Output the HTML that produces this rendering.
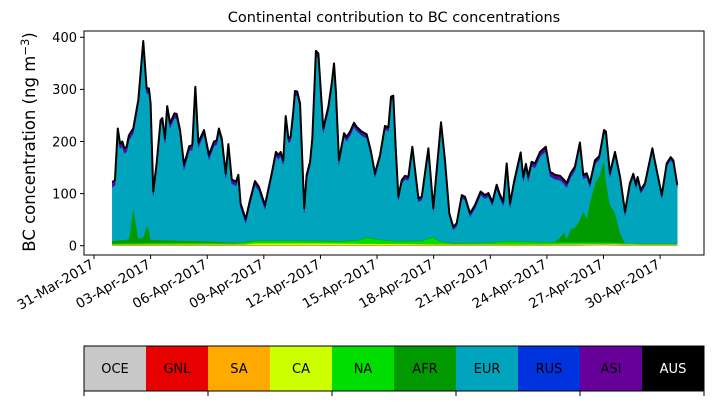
<!DOCTYPE html>
<html><head><meta charset="utf-8"><style>
html,body{margin:0;padding:0;background:#fff;}
svg{display:block;font-family:"DejaVu Sans","Liberation Sans",sans-serif;}
</style></head><body>
<svg id="chart" width="714" height="402" viewBox="0 0 714 402" xmlns="http://www.w3.org/2000/svg">
<text x="394" y="22" font-size="14.5" text-anchor="middle">Continental contribution to BC concentrations</text>
<text transform="translate(35,142) rotate(-90)" font-size="16.5" text-anchor="middle">BC concentration (ng m<tspan dy="-6" font-size="11.5">−3</tspan><tspan dy="6">)</tspan></text>
<g id="areas"></g>
<g id="axes"></g>
<g id="legend"></g>
</svg>
<script>
// days since 31-Mar-2017 00:00
const days=[0.97,1.11,1.26,1.38,1.50,1.61,1.73,1.85,2.08,2.35,2.61,2.79,2.91,3.00,3.14,3.32,3.53,3.62,3.76,3.88,4.03,4.26,4.38,4.56,4.77,5.05,5.21,5.37,5.53,5.83,6.09,6.36,6.50,6.62,6.77,6.98,7.12,7.30,7.53,7.65,7.77,8.04,8.27,8.53,8.74,9.06,9.42,9.64,9.77,9.89,10.03,10.16,10.30,10.42,10.56,10.65,10.77,10.92,11.14,11.27,11.45,11.57,11.76,11.89,12.15,12.42,12.60,12.72,12.82,12.98,13.25,13.39,13.57,13.78,13.92,14.19,14.45,14.66,14.89,15.16,15.42,15.60,15.74,15.86,16.00,16.13,16.31,16.48,16.66,16.87,17.19,17.37,17.72,17.98,18.39,18.60,18.83,19.04,19.22,19.49,19.66,19.93,20.19,20.49,20.72,20.90,21.11,21.34,21.48,21.69,21.87,22.05,22.26,22.61,22.75,22.89,23.01,23.19,23.37,23.64,23.94,24.17,24.43,24.70,24.92,25.05,25.26,25.49,25.75,25.93,26.11,26.28,26.55,26.78,27.03,27.13,27.34,27.61,27.88,28.14,28.40,28.58,28.72,28.81,28.97,29.20,29.59,29.73,30.09,30.35,30.56,30.70,30.91];
const totalBC=[122,126,225,196,200,187,190,212,225,280,393,302,302,273,104,158,241,245,206,268,235,254,253,222,155,191,193,305,198,222,174,200,202,225,206,138,195,127,123,136,81,51,88,124,113,78,139,180,174,180,164,249,206,209,257,297,296,273,72,136,161,206,374,369,225,267,312,350,296,164,216,209,219,236,228,219,214,184,139,174,230,227,286,288,180,94,126,134,132,190,91,94,187,72,237,164,62,36,43,97,94,62,78,104,97,101,84,117,101,84,158,81,123,179,132,157,132,161,158,180,190,142,136,134,126,120,139,152,198,136,139,120,164,172,222,219,139,180,132,65,120,138,117,132,107,120,187,161,97,158,170,164,117];
// component series: [day, value]
const OCE=[[0.97,0.5],[24,0.5],[27,2],[29,0.5],[31,0.5]];
const GNL=[[0.97,0.3],[31,0.3]];
const SA=[[0.97,0.5],[8,1],[16,0.8],[31,0.5]];
const CA=[[0.97,1],[8,1],[8.5,3],[12,3],[16,2],[19,1],[31,1]];
const NA=[[0.97,2],[3,3],[6,3],[7.5,2],[8,4],[9,5],[13,4],[14,6],[14.5,12],[15,8],[16,5],[17.5,6],[17.9,15],[18.3,5],[19,2],[21,3],[21.5,5],[22,6],[24,4],[26,3],[28,2],[31,2]];
const AFR=[[0.97,5],[1.7,7],[2.0,10],[2.08,68],[2.2,8],[2.6,10],[2.86,40],[3.0,6],[5,4],[8,1],[12,1],[24.5,1],[24.92,20],[25.0,2],[25.26,26],[25.6,30],[25.93,60],[26.1,44],[26.45,108],[26.78,127],[27.03,160],[27.25,70],[27.5,76],[27.7,44],[28.0,3],[28.14,0],[31,0]];
const RUS=[[0.97,2],[31,2]];
const ASI=[[0.97,7],[5,6],[8,5],[12,6],[16,4],[19,3],[24,6],[27,4],[31,3]];
const AUS=[[0.97,1],[31,1]];
const names=["OCE","GNL","SA","CA","NA","AFR","EUR","RUS","ASI","AUS"];
const colors=["#c8c8c8","#e60000","#ffaa00","#ccff00","#00dd00","#009900","#00a5bd","#0033dd","#660099","#000000"];
const yTicks=[0,100,200,300,400];
const xTickDays=[0,3,6,9,12,15,18,21,24,27,30];
const xTickLabels=["31-Mar-2017","03-Apr-2017","06-Apr-2017","09-Apr-2017","12-Apr-2017","15-Apr-2017","18-Apr-2017","21-Apr-2017","24-Apr-2017","27-Apr-2017","30-Apr-2017"];

const NS="http://www.w3.org/2000/svg";
const X0=84,X1=704,Y0=31,Y1=255;
const xs=d=>94+18.87*d;
const ys=v=>245.7-0.521*v;
function interp(s,d){if(d<=s[0][0])return s[0][1];for(let i=1;i<s.length;i++){if(d<=s[i][0]){const a=s[i-1],b=s[i];return a[1]+(b[1]-a[1])*(d-a[0])/(b[0]-a[0]);}}return s[s.length-1][1];}
function mk(tag,attrs,parent){const e=document.createElementNS(NS,tag);for(const k in attrs)e.setAttribute(k,attrs[k]);parent.appendChild(e);return e;}
const areas=document.getElementById('areas');
const axes=document.getElementById('axes');
const legend=document.getElementById('legend');

const comps={OCE,GNL,SA,CA,NA,AFR,RUS,ASI,AUS};
const layers=names.map(n=>days.map(d=>n==="EUR"?0:interp(comps[n],d)));
const ei=names.indexOf("EUR");
days.forEach((d,i)=>{let s=0;names.forEach((n,k)=>{if(k!==ei)s+=layers[k][i];});layers[ei][i]=Math.max(0,totalBC[i]-s);});
let base=days.map(()=>0);
names.forEach((n,k)=>{
  const top=base.map((b,i)=>b+layers[k][i]);
  let p="M"+days.map((d,i)=>xs(d).toFixed(2)+","+ys(top[i]).toFixed(2)).join("L");
  for(let i=days.length-1;i>=0;i--)p+="L"+xs(days[i]).toFixed(2)+","+ys(base[i]).toFixed(2);
  p+="Z";
  const e=mk('path',{d:p,fill:colors[k],stroke:colors[k],'stroke-width':0.5},areas);
  
  
  base=top;
});
const tl=mk('path',{d:"M"+days.map((d,i)=>xs(d).toFixed(2)+","+ys(totalBC[i]).toFixed(2)).join("L"),fill:"none",stroke:"#000","stroke-width":2,"stroke-linejoin":"round"},areas);



const fr=mk('rect',{x:X0,y:Y0,width:X1-X0,height:Y1-Y0,fill:"none",stroke:"#000","stroke-width":1},axes);


yTicks.forEach(v=>{
  const y=ys(v);
  const t=mk('line',{x1:X0-4,x2:X0,y1:y,y2:y,stroke:"#000"},axes);
  
  
  const l=mk('text',{x:X0-7,y:y+4.8,'font-size':13,'text-anchor':'end'},axes);
  
  
  l.textContent=v;
});
xTickDays.forEach((d,i)=>{
  const x=xs(d);
  const t=mk('line',{x1:x,x2:x,y1:Y1,y2:Y1+4,stroke:"#000"},axes);
  
  
  const l=mk('text',{transform:`translate(${x+1},${Y1+12}) rotate(-30)`,'font-size':13.5,'text-anchor':'end'},axes);
  
  
  l.textContent=xTickLabels[i];
});
const LX=84,LW=62,LY=346,LH=45;
names.forEach((n,k)=>{
  const r=mk('rect',{x:LX+k*LW,y:LY,width:LW,height:LH,fill:colors[k]},legend);
  
  
  const t=mk('text',{x:LX+k*LW+LW/2,y:LY+LH/2+4.5,'font-size':13,'text-anchor':'middle',fill:n==="AUS"?"#fff":"#000"},legend);
  
  
  t.textContent=n;
});
const lb=mk('rect',{x:LX,y:LY,width:LW*10,height:LH,fill:"none",stroke:"#000","stroke-width":1},legend);


for(let k=0;k<=10;k+=2){
  const t=mk('line',{x1:LX+k*LW,x2:LX+k*LW,y1:LY+LH,y2:LY+LH+5,stroke:"#000"},legend);
  
  
}
</script>
</body></html>
